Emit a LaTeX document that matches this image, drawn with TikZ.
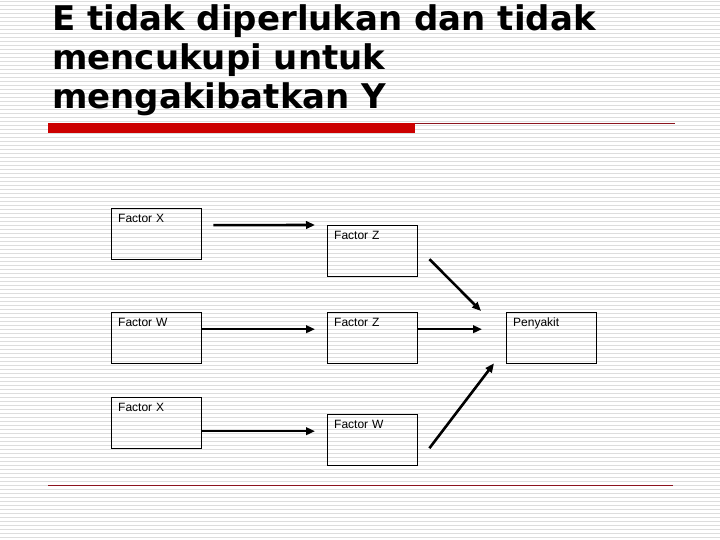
\documentclass[tikz,border=0pt]{standalone}
\usepackage{fontspec}
\usepackage{xcolor}
\usepackage{tikz}
\usetikzlibrary{arrows.meta, calc}
\setmainfont{Liberation Sans}
\newfontfamily\titlefont{DejaVu Sans}
\definecolor{stripegray}{RGB}{221,221,221}
\definecolor{barred}{RGB}{204,0,0}
\definecolor{rulered}{RGB}{140,20,30}
\tikzset{
  factor/.style={
      draw=black,
      rectangle,
      anchor=north west,
      minimum width=90pt,
      text width=76pt,
      inner xsep=7pt,
      inner ysep=0pt,
      text height=14pt,
      text depth=37pt,
      align=left,
      font=\fontsize{12}{14}\selectfont
  },
  arrow/.style={-{Triangle[length=9pt,width=7.5pt]}, line width=2.6pt}
}

\begin{document}
\begin{tikzpicture}[x=1pt, y=1pt]
      \useasboundingbox (0,0) rectangle (720,540);
      % Background stripes
      \fill[white] (0,0) rectangle (720,540);
      \foreach \k in {0,...,134}
        \draw[stripegray, line width=1pt] (0,{538.5-4*\k}) -- (720,{538.5-4*\k});

      % Title
      \node (title) [anchor=north west, inner sep=0pt, align=left,
        font=\titlefont\bfseries\fontsize{34}{39}\selectfont] at (52,536)
        {E tidak diperlukan dan tidak\\mencukupi untuk\\mengakibatkan Y};
      \fill[barred] (48,407) rectangle (415,417);
      \draw[rulered, line width=1pt] (415,416.5) -- (675,416.5);
      \draw[rulered, line width=1pt] (48,54) -- (673,54);

      % Basic boxes
      \node (fx1) [factor] at (111,332) {Factor X};
      \node (fz1) [factor] at (327,315) {Factor Z};
      \node (fw2) [factor] at (111,228) {Factor W};
      \node (fz2) [factor] at (327,228) {Factor Z};
      \node (peny) [factor] at (506,228) {Penyakit};
      \node (fx3) [factor] at (111,143) {Factor X};
      \node (fw3) [factor] at (327,126) {Factor W};

      % Connections
      \draw[arrow] ($(fx1.east)+(12,8.5)$) -- ($(fz1.north west)+(-12,0)$);
      \draw[arrow] ($(fw2.east)+(0,8.5)$) -- ($(fz2.west)+(-12,8.5)$);
      \draw[arrow] ($(fx3.east)+(0,-8.5)$) -- ($(fw3.west)+(-12,8.5)$);
      \draw[arrow] ($(fz2.east)+(0,8.5)$) -- ($(peny.west)+(-24,8.5)$);
      \draw[arrow] ($(fz1.east)+(12,-8.5)$) -- ($(peny.north west)+(-25,1)$);
      \draw[arrow] ($(fw3.east)+(12,-8.5)$) -- ($(peny.south west)+(-12,0)$);
    \end{tikzpicture}
\end{document}
